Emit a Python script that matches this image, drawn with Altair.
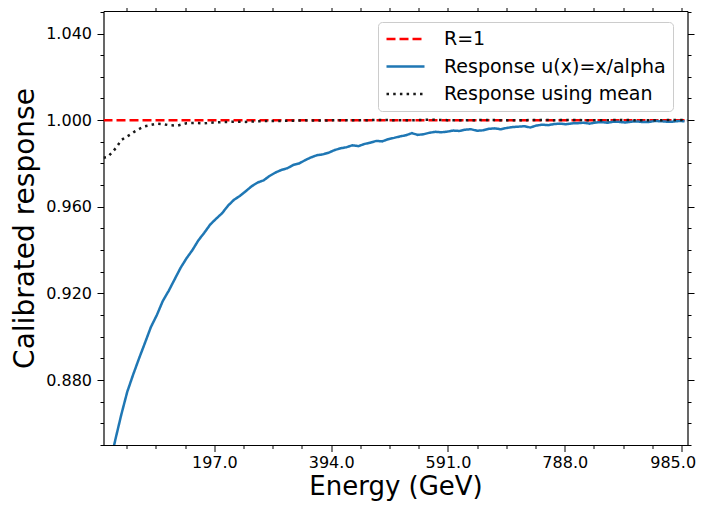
import altair as alt
import pandas as pd

FONT = "DejaVu Sans"

series_names = ["R=1", "Response u(x)=x/alpha", "Response using mean"]
series_colors = ["#ff0000", "#1f77b4", "#1a1a1a"]

ref_E = [10, 995]
ref_R = [1.0, 1.0]

alpha_E = [10, 20, 30, 40, 50, 60, 70, 80, 90, 100, 110, 120, 130, 140, 150, 160,
           170, 180, 190, 200, 210, 220, 230, 240, 250, 260, 270, 280, 290, 300,
           310, 320, 330, 340, 350, 360, 370, 380, 390, 400, 410, 420, 430, 440,
           450, 460, 470, 480, 490, 500, 510, 520, 530, 540, 550, 560, 570, 580,
           590, 600, 610, 620, 630, 640, 650, 660, 670, 680, 690, 700, 710, 720,
           730, 740, 750, 760, 770, 780, 790, 800, 810, 820, 830, 840, 850, 860,
           870, 880, 890, 900, 910, 920, 930, 940, 950, 960, 970, 980, 990]
alpha_R = [0.8260, 0.8400, 0.8525, 0.8640, 0.8745, 0.8825, 0.8900, 0.8972, 0.9045,
           0.9100, 0.9165, 0.9212, 0.9265, 0.9318, 0.9362, 0.9400, 0.9445, 0.9480,
           0.9518, 0.9545, 0.9570, 0.9605, 0.9632, 0.9650, 0.9672, 0.9695, 0.9712,
           0.9722, 0.9742, 0.9758, 0.9770, 0.9778, 0.9793, 0.9800, 0.9815, 0.9828,
           0.9838, 0.9842, 0.9850, 0.9862, 0.9870, 0.9875, 0.9884, 0.9880, 0.9890,
           0.9896, 0.9904, 0.9902, 0.9912, 0.9918, 0.9925, 0.9930, 0.9940, 0.9932,
           0.9935, 0.9942, 0.9946, 0.9944, 0.9947, 0.9952, 0.9950, 0.9956, 0.9958,
           0.9951, 0.9953, 0.9960, 0.9962, 0.9958, 0.9964, 0.9968, 0.9970, 0.9972,
           0.9966, 0.9975, 0.9979, 0.9977, 0.9982, 0.9984, 0.9981, 0.9985, 0.9986,
           0.9988, 0.9984, 0.9989, 0.9991, 0.9988, 0.9993, 0.9992, 0.9989, 0.9993,
           0.9994, 0.9991, 0.9992, 0.9996, 0.9995, 0.9993, 0.9993, 0.9996, 0.9995]

mean_E = [10, 17, 25, 32, 40, 48, 55, 63, 72, 80, 90, 100, 110, 120, 135, 150, 165,
          180, 195, 210, 230, 250, 270, 290, 320, 350, 380, 410, 440, 470, 500, 530,
          560, 590, 620, 650, 680, 710, 740, 770, 800, 830, 860, 890, 920, 950, 980, 995]
mean_R = [0.9826, 0.9830, 0.9852, 0.9875, 0.9908, 0.9922, 0.9933, 0.9948, 0.9962,
          0.9972, 0.9978, 0.9984, 0.9982, 0.9977, 0.9975, 0.9986, 0.9987, 0.9985,
          0.9989, 0.9991, 0.9993, 0.9992, 0.9995, 0.9996, 0.9997, 0.9999, 0.9998,
          1.0000, 0.9999, 1.0001, 1.0000, 0.9999, 1.0002, 1.0000, 0.9999, 1.0001,
          1.0000, 0.9999, 1.0001, 1.0000, 1.0001, 0.9999, 1.0000, 1.0001, 0.9999,
          1.0000, 1.0001, 1.0000]

x_major = [197, 394, 591, 788, 985]
x_minor = [49.25, 98.5, 147.75, 246.25, 295.5, 344.75, 443.25, 492.5, 541.75,
           640.25, 689.5, 738.75, 837.25, 886.5, 935.75]
y_major = [0.88, 0.92, 0.96, 1.00, 1.04]
y_minor = [0.85, 0.86, 0.87, 0.89, 0.90, 0.91, 0.93, 0.94, 0.95, 0.97, 0.98, 0.99,
           1.01, 1.02, 1.03, 1.05]

df = pd.concat([
    pd.DataFrame({"E": ref_E, "R": ref_R, "series": series_names[0]}),
    pd.DataFrame({"E": alpha_E, "R": alpha_R, "series": series_names[1]}),
    pd.DataFrame({"E": mean_E, "R": mean_R, "series": series_names[2]}),
], ignore_index=True)

x_scale = alt.Scale(domain=[10, 995], nice=False, zero=False)
y_scale = alt.Scale(domain=[0.85, 1.0504], nice=False, zero=False)

common = dict(grid=False, tickColor="black", tickWidth=1, domainColor="black",
              domainWidth=1.2)

legend = alt.Legend(
    orient="none", legendX=274.5, legendY=11, symbolType="stroke",
    symbolSize=1444, symbolStrokeWidth=2.5, labelFontSize=19, labelFont=FONT,
    labelColor="black", labelOffset=18, clipHeight=20, rowPadding=7.5,
    padding=7, strokeColor="#cccccc", fillColor="rgba(255,255,255,0.85)",
    cornerRadius=4, labelLimit=400,
)

lines = alt.Chart(df).mark_line(clip=True, strokeWidth=2.5).encode(
    x=alt.X("E:Q", scale=x_scale, axis=alt.Axis(
        orient="bottom", values=x_major, format=".1f", tickSize=6.5,
        labelPadding=2.5, labelFontSize=16, labelFont=FONT, labelColor="black",
        labelFlush=10, labelFlushOffset=14, title="Energy (GeV)", titleFont=FONT,
        titleFontSize=26, titleFontWeight="normal", titleColor="black",
        titleY=49.8, titleBaseline="alphabetic", **common)),
    y=alt.Y("R:Q", scale=y_scale, axis=alt.Axis(
        orient="left", values=y_major, format=".3f", tickSize=6.5,
        labelPadding=5.5, labelFontSize=16, labelFont=FONT, labelColor="black",
        labelFlush=False, title="Calibrated response", titleFont=FONT,
        titleFontSize=28, titleFontWeight="normal", titleColor="black",
        titleX=-70, titleAngle=270, titleBaseline="alphabetic", **common)),
    color=alt.Color("series:N", title=None, sort=series_names,
                    scale=alt.Scale(domain=series_names, range=series_colors),
                    legend=legend),
    strokeDash=alt.StrokeDash("series:N", title=None, sort=series_names,
                              scale=alt.Scale(domain=series_names,
                                              range=[[9, 4], [1, 0], [2.5, 4.2]]),
                              legend=legend),
)


def axis_layer(xaxis, yaxis):
    return alt.Chart(df).mark_point(opacity=0, clip=True).encode(
        x=alt.X("E:Q", scale=x_scale, axis=xaxis),
        y=alt.Y("R:Q", scale=y_scale, axis=yaxis),
    )


bottom_minor = alt.Axis(orient="bottom", values=x_minor, labels=False, title="",
                        tickSize=3.5, domain=False, grid=False, tickColor="black")
left_minor = alt.Axis(orient="left", values=y_minor, labels=False, title="",
                      tickSize=3.5, domain=False, grid=False, tickColor="black")
top_major = alt.Axis(orient="top", values=x_major, labels=False, title="",
                     tickSize=6.5, **common)
right_major = alt.Axis(orient="right", values=y_major, labels=False, title="",
                       tickSize=6.5, **common)
top_minor = alt.Axis(orient="top", values=x_minor, labels=False, title="",
                     tickSize=3.5, domain=False, grid=False, tickColor="black")
right_minor = alt.Axis(orient="right", values=y_minor, labels=False, title="",
                       tickSize=3.5, domain=False, grid=False, tickColor="black")

chart = alt.layer(
    lines,
    axis_layer(bottom_minor, left_minor),
    axis_layer(top_major, right_major),
    axis_layer(top_minor, right_minor),
).resolve_axis(x="independent", y="independent").properties(
    width=584, height=434,
    autosize=alt.AutoSizeParams(type="none"),
    padding={"left": 95.5, "top": 3, "right": 9.5, "bottom": 56},
).configure_view(strokeOpacity=0)

chart.save("out.html", embed_options={"renderer": "svg", "actions": False})
